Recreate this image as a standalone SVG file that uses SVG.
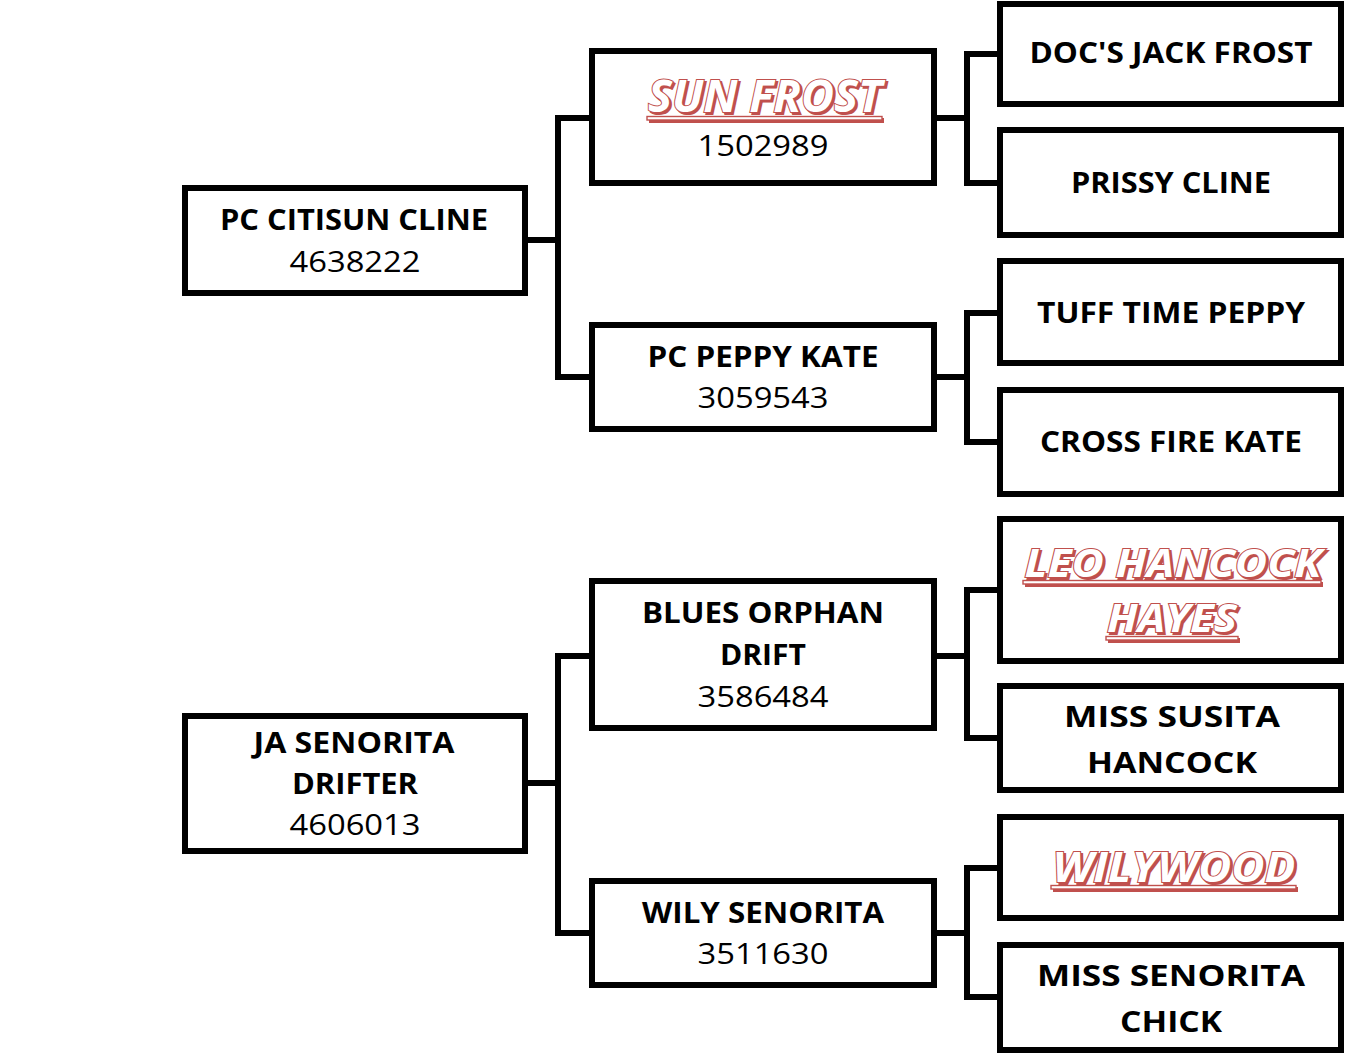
<svg xmlns="http://www.w3.org/2000/svg" width="1369" height="1058" viewBox="0 0 1369 1058">
<style>
.box{fill:#fff;stroke:#000;stroke-width:6}
.c{fill:none;stroke:#000;stroke-width:6;stroke-linecap:square}
text{font-family:"Open Sans","Noto Sans","DejaVu Sans",sans-serif;text-anchor:middle;fill:#000}
.b{font-weight:bold;font-size:29px}
.n{font-size:30px}
.r{font-weight:bold;font-style:italic;fill:#fff;stroke:#c0504d;stroke-width:2;paint-order:stroke}
.rs{font-weight:bold;font-style:italic;fill:#c0504d;stroke:#c0504d;stroke-width:2}
.ul{fill:#fff;stroke:#c0504d;stroke-width:1.4}
.uls{fill:#c0504d}
</style>
<rect width="1369" height="1058" fill="#fff"/>
<g id="connectors">
<path class="c" d="M525,240H558M558,118V377M558,118H592M558,377H592"/>
<path class="c" d="M934,118H967M967,54V183M967,54H1000M967,183H1000"/>
<path class="c" d="M934,377H967M967,313V442M967,313H1000M967,442H1000"/>
<path class="c" d="M525,783H558M558,656V933M558,656H592M558,933H592"/>
<path class="c" d="M934,656H967M967,590V738M967,590H1000M967,738H1000"/>
<path class="c" d="M934,933H967M967,868V997M967,868H1000M967,997H1000"/>
</g>
<g id="pc-citisun-cline"><rect class="box" x="185" y="188" width="340" height="105"/>
<text class="b" x="354" y="230" textLength="268" lengthAdjust="spacingAndGlyphs">PC CITISUN CLINE</text>
<text class="n" x="355" y="272" textLength="131" lengthAdjust="spacingAndGlyphs">4638222</text></g>
<g id="ja-senorita-drifter"><rect class="box" x="185" y="716" width="340" height="135"/>
<text class="b" x="354" y="753" textLength="201" lengthAdjust="spacingAndGlyphs">JA SENORITA</text>
<text class="b" x="355" y="794" textLength="126" lengthAdjust="spacingAndGlyphs">DRIFTER</text>
<text class="n" x="355" y="835" textLength="131" lengthAdjust="spacingAndGlyphs">4606013</text></g>
<g id="sun-frost"><rect class="box" x="592" y="51" width="342" height="132"/>
<rect class="uls" x="649" y="118" width="235" height="5"/><rect class="ul" x="647" y="116.5" width="235" height="3.5"/>
<text class="rs" x="767" y="114" font-size="45" textLength="234" lengthAdjust="spacingAndGlyphs">SUN FROST</text>
<text class="r" x="765" y="112" font-size="45" textLength="234" lengthAdjust="spacingAndGlyphs">SUN FROST</text>
<text class="n" x="763" y="156" textLength="131" lengthAdjust="spacingAndGlyphs">1502989</text></g>
<g id="pc-peppy-kate"><rect class="box" x="592" y="325" width="342" height="104"/>
<text class="b" x="763" y="367" textLength="231" lengthAdjust="spacingAndGlyphs">PC PEPPY KATE</text>
<text class="n" x="763" y="408" textLength="131" lengthAdjust="spacingAndGlyphs">3059543</text></g>
<g id="blues-orphan-drift"><rect class="box" x="592" y="581" width="342" height="147"/>
<text class="b" x="763" y="623" textLength="242" lengthAdjust="spacingAndGlyphs">BLUES ORPHAN</text>
<text class="b" x="763" y="665" textLength="86" lengthAdjust="spacingAndGlyphs">DRIFT</text>
<text class="n" x="763" y="707" textLength="131" lengthAdjust="spacingAndGlyphs">3586484</text></g>
<g id="wily-senorita"><rect class="box" x="592" y="881" width="342" height="104"/>
<text class="b" x="763" y="923" textLength="242" lengthAdjust="spacingAndGlyphs">WILY SENORITA</text>
<text class="n" x="763" y="964" textLength="131" lengthAdjust="spacingAndGlyphs">3511630</text></g>
<g id="docs-jack-frost"><rect class="box" x="1000" y="4" width="341" height="100"/>
<text class="b" x="1171" y="63" textLength="283" lengthAdjust="spacingAndGlyphs">DOC'S JACK FROST</text></g>
<g id="prissy-cline"><rect class="box" x="1000" y="130" width="341" height="105"/>
<text class="b" x="1171" y="193" textLength="200" lengthAdjust="spacingAndGlyphs">PRISSY CLINE</text></g>
<g id="tuff-time-peppy"><rect class="box" x="1000" y="261" width="341" height="102"/>
<text class="b" x="1171" y="323" textLength="268" lengthAdjust="spacingAndGlyphs">TUFF TIME PEPPY</text></g>
<g id="cross-fire-kate"><rect class="box" x="1000" y="390" width="341" height="104"/>
<text class="b" x="1171" y="452" textLength="262" lengthAdjust="spacingAndGlyphs">CROSS FIRE KATE</text></g>
<g id="leo-hancock-hayes"><rect class="box" x="1000" y="519" width="341" height="142"/>
<rect class="uls" x="1025" y="582" width="298" height="5"/><rect class="ul" x="1023" y="580.5" width="298" height="3.5"/>
<rect class="uls" x="1108" y="638" width="132" height="5"/><rect class="ul" x="1106" y="636.5" width="132" height="3.5"/>
<text class="rs" x="1175" y="579" font-size="40" textLength="297" lengthAdjust="spacingAndGlyphs">LEO HANCOCK</text>
<text class="r" x="1173" y="577" font-size="40" textLength="297" lengthAdjust="spacingAndGlyphs">LEO HANCOCK</text>
<text class="rs" x="1174" y="634" font-size="40" textLength="130" lengthAdjust="spacingAndGlyphs">HAYES</text>
<text class="r" x="1172" y="632" font-size="40" textLength="130" lengthAdjust="spacingAndGlyphs">HAYES</text></g>
<g id="miss-susita-hancock"><rect class="box" x="1000" y="686" width="341" height="104"/>
<text class="b" x="1172" y="727" font-size="32" textLength="216" lengthAdjust="spacingAndGlyphs">MISS SUSITA</text>
<text class="b" x="1172" y="773" font-size="32" textLength="170" lengthAdjust="spacingAndGlyphs">HANCOCK</text></g>
<g id="wilywood"><rect class="box" x="1000" y="817" width="341" height="101"/>
<rect class="uls" x="1053" y="887" width="245" height="5"/><rect class="ul" x="1051" y="885.5" width="245" height="3.5"/>
<text class="rs" x="1176" y="884" font-size="42" textLength="243" lengthAdjust="spacingAndGlyphs">WILYWOOD</text>
<text class="r" x="1174" y="882" font-size="42" textLength="243" lengthAdjust="spacingAndGlyphs">WILYWOOD</text></g>
<g id="miss-senorita-chick"><rect class="box" x="1000" y="945" width="341" height="105"/>
<text class="b" x="1171" y="986" font-size="32" textLength="268" lengthAdjust="spacingAndGlyphs">MISS SENORITA</text>
<text class="b" x="1171" y="1032" font-size="32" textLength="102" lengthAdjust="spacingAndGlyphs">CHICK</text></g>
</svg>
